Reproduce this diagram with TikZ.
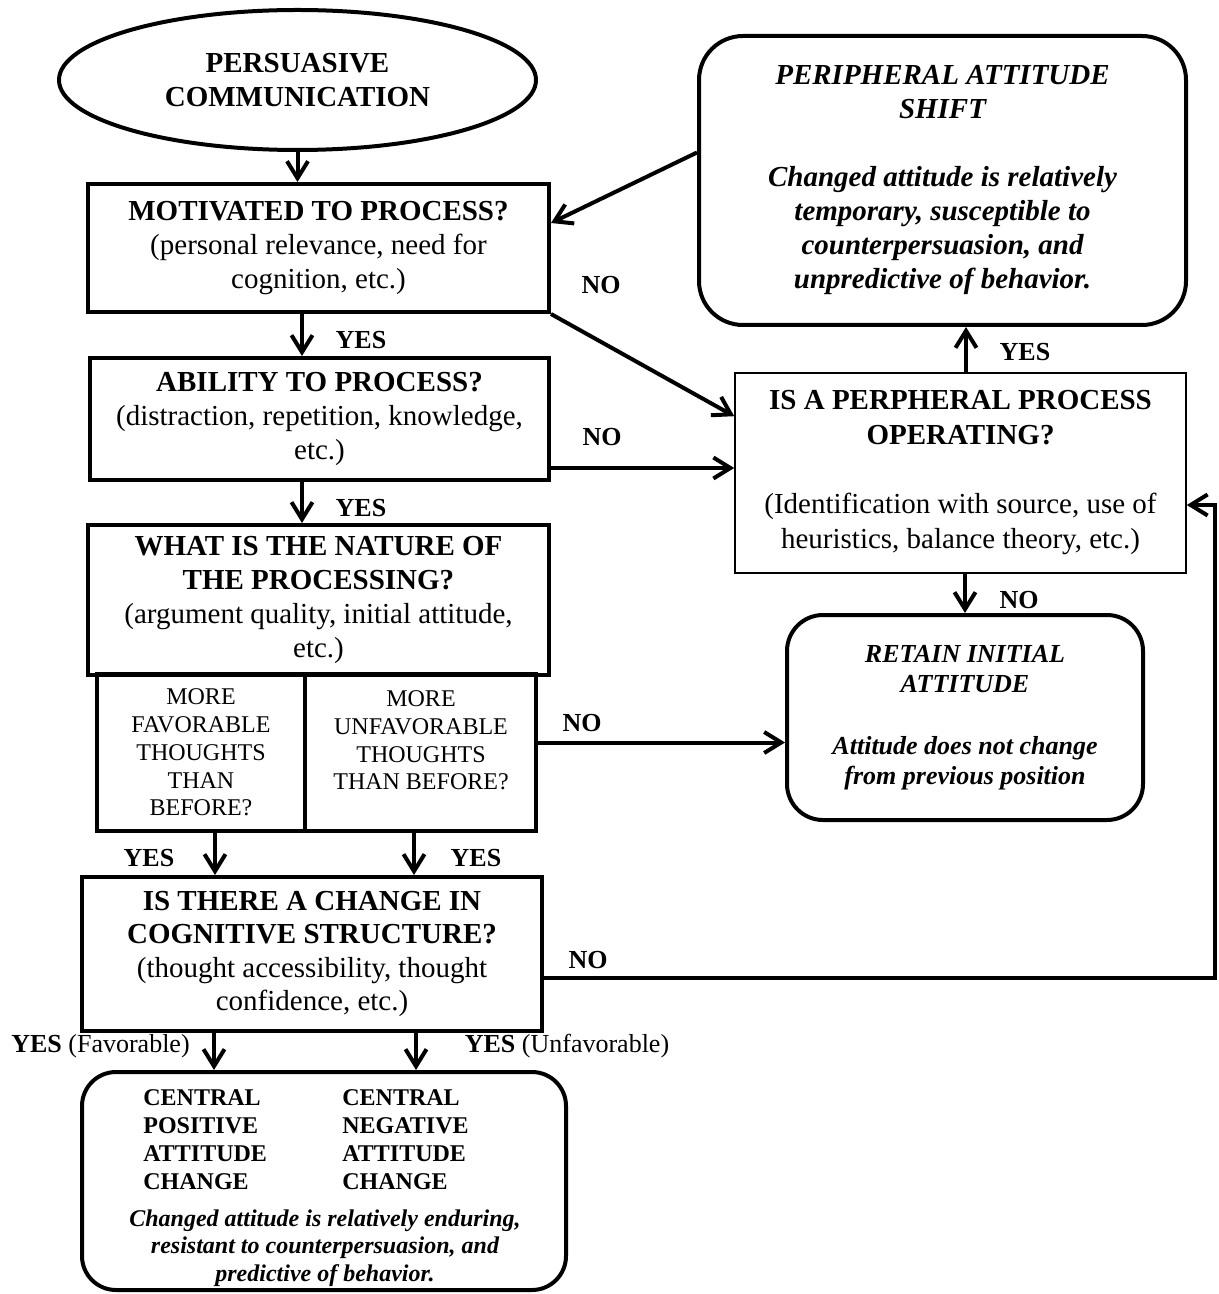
\documentclass[tikz,border=0pt]{standalone}
\usepackage{fontspec}
\setmainfont{Liberation Serif}
\usetikzlibrary{arrows.meta,shapes.geometric,calc}
\begin{document}
\begin{tikzpicture}[x=0.5pt,y=-0.5pt,
 box/.style={draw,line width=2pt,inner sep=0pt,align=center},
 big/.style={font=\fontsize{14.5}{17}\selectfont},
 small/.style={font=\fontsize{12}{13.9}\selectfont},
 lbl/.style={font=\fontsize{13}{15}\selectfont\bfseries},
 arr/.style={line width=2pt,-{Straight Barb[length=8.5pt,width=10.5pt]}}]
\useasboundingbox (0,0) rectangle (1219,1294);

% boxes
\node[box,big,ellipse,font=\fontsize{14.5}{17}\selectfont\bfseries,minimum width=238.5pt,minimum height=70pt] (ell) at (297.5,80) {PERSUASIVE\\COMMUNICATION};
\node[box,big,minimum width=230.5pt,minimum height=64pt] (mot) at (318.5,248) {\textbf{MOTIVATED TO PROCESS?}\\(personal relevance, need for\\cognition, etc.)};
\node[box,big,minimum width=229.5pt,minimum height=61pt] (abl) at (319.5,419) {\textbf{ABILITY TO PROCESS?}\\(distraction, repetition, knowledge,\\etc.)};
\node[box,big,minimum width=230.5pt,minimum height=75pt] (nat) at (318.5,600) {\textbf{WHAT IS THE NATURE OF}\\\textbf{THE PROCESSING?}\\(argument quality, initial attitude,\\etc.)};
\node[box,small,minimum width=104pt,minimum height=78.5pt] (subL) at (201,752.5) {MORE\\FAVORABLE\\THOUGHTS\\THAN\\BEFORE?};
\node[box,minimum width=115.5pt,minimum height=78.5pt] (subR) at (420.5,752.5) {};
\node[small,align=center] (subRt) at (421,740.5) {MORE\\UNFAVORABLE\\THOUGHTS\\THAN BEFORE?};
\node[box,font=\fontsize{14.5}{16.7}\selectfont,minimum width=230pt,minimum height=77pt] (cog) at (312,954) {\textbf{IS THERE A CHANGE IN}\\\textbf{COGNITIVE STRUCTURE?}\\(thought accessibility, thought\\confidence, etc.)};
\node[box,rounded corners=17pt,minimum width=242pt,minimum height=109pt] (bot) at (324,1181) {};
\node[font=\fontsize{12}{14}\selectfont\bfseries,align=left,anchor=west,inner sep=0pt] (cpos) at (143,1140) {CENTRAL\\POSITIVE\\ATTITUDE\\CHANGE};
\node[font=\fontsize{12}{14}\selectfont\bfseries,align=left,anchor=west,inner sep=0pt] (cneg) at (342,1140) {CENTRAL\\NEGATIVE\\ATTITUDE\\CHANGE};
\node[font=\fontsize{12}{13.75}\selectfont\bfseries\itshape,align=center] (cdesc) at (325,1248) {Changed attitude is relatively enduring,\\resistant to counterpersuasion, and\\predictive of behavior.};

\node[box,rounded corners=22pt,font=\fontsize{14.5}{17}\selectfont\bfseries\itshape,minimum width=243.5pt,minimum height=144.5pt] (shift) at (942.5,180.5) {PERIPHERAL ATTITUDE\\SHIFT\\[17pt]Changed attitude is relatively\\temporary, susceptible to\\counterpersuasion, and\\unpredictive of behavior.};
\node[draw,line width=0.8pt,inner sep=0pt,align=center,font=\fontsize{14.5}{17.5}\selectfont,minimum width=225.5pt,minimum height=100pt] (proc) at (960.5,473) {\textbf{IS A PERPHERAL PROCESS}\\\textbf{OPERATING?}\\[17pt](Identification with source, use of\\heuristics, balance theory, etc.)};
\node[box,rounded corners=18pt,font=\fontsize{13}{15}\selectfont\bfseries\itshape,minimum width=178pt,minimum height=102.5pt] (ret) at (965,717.5) {RETAIN INITIAL\\ATTITUDE\\[16pt]Attitude does not change\\from previous position};

\coordinate (rail) at (1215,505);

% connectors
\draw[arr] (ell.south) -- (ell.south |- mot.north);
\draw[arr] ([xshift=-8.25pt]mot.south) -- ([xshift=-8.25pt]mot.south |- abl.north);
\draw[arr] ([xshift=-8.75pt]abl.south) -- ([xshift=-8.75pt]abl.south |- nat.north);
\draw[arr] ([xshift=7pt]subL.south) -- ([xshift=7pt]subL.south |- cog.north);
\draw[arr] ([xshift=-3.25pt]subR.south) -- ([xshift=-3.25pt]subR.south |- cog.north);
\draw[arr] ([xshift=-49pt]cog.south) -- ([xshift=-49pt]cog.south |- bot.north);
\draw[arr] ([xshift=52pt]cog.south) -- ([xshift=52pt]cog.south |- bot.north);
\draw[arr] ([yshift=14pt]shift.west) -- ([yshift=12.5pt]mot.east);
\draw[arr] (mot.south east) -- ([yshift=-22pt]proc.north west);
\draw[arr] ([yshift=7pt]abl.south east) -- ([yshift=7pt]abl.south east -| proc.west);
\draw[arr] ([xshift=2.75pt]proc.north) -- ([xshift=2.75pt]proc.north |- shift.south);
\draw[arr] (proc.south -| ret.north) -- (ret.north);
\draw[arr] ([yshift=5pt]subR.east) -- ([yshift=5pt]subR.east -| ret.west);
\draw[arr] ([yshift=-12pt]cog.east) -| (rail) -- (rail -| proc.east);

% labels
\node[lbl] (l1) at (601,285) {NO};
\node[lbl] (l2) at (361,340) {YES};
\node[lbl] (l3) at (361,508) {YES};
\node[lbl] (l4) at (602,437) {NO};
\node[lbl] (l5) at (1025,352) {YES};
\node[lbl] (l6) at (1019,600) {NO};
\node[lbl] (l7) at (582,723) {NO};
\node[lbl] (l8) at (149,858) {YES};
\node[lbl] (l9) at (476,858) {YES};
\node[lbl] (l10) at (588,960) {NO};
\node[font=\fontsize{13}{15}\selectfont] (l11) at (100.5,1046) {\textbf{YES} (Favorable)};
\node[font=\fontsize{13}{15}\selectfont] (l12) at (567,1046) {\textbf{YES} (Unfavorable)};
\end{tikzpicture}
\end{document}
